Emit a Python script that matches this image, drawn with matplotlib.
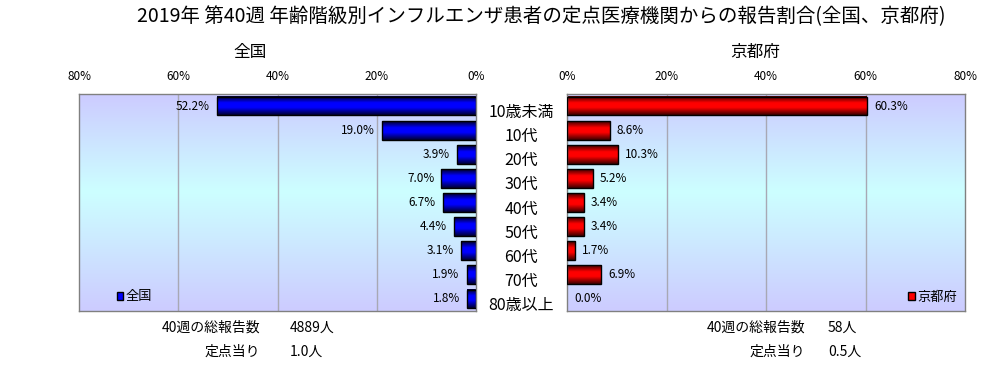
import numpy as np
import matplotlib
matplotlib.use("Agg")
import matplotlib.pyplot as plt
from matplotlib.colors import LinearSegmentedColormap
from matplotlib.patches import Patch
import matplotlib.transforms as mtransforms

plt.rcParams['font.family'] = ['Noto Sans CJK JP', 'DejaVu Sans']

title = "2019年 第40週 年齢階級別インフルエンザ患者の定点医療機関からの報告割合(全国、京都府)"
categories = ["10歳未満", "10代", "20代", "30代", "40代", "50代", "60代", "70代", "80歳以上"]
national = [52.2, 19.0, 3.9, 7.0, 6.7, 4.4, 3.1, 1.9, 1.8]
kyoto = [60.3, 8.6, 10.3, 5.2, 3.4, 3.4, 1.7, 6.9, 0.0]
xticks = [0, 20, 40, 60, 80]
national_total = ("40週の総報告数", "4889人")
national_per = ("定点当り", "1.0人")
kyoto_total = ("40週の総報告数", "58人")
kyoto_per = ("定点当り", "0.5人")

W, H = 1006, 365
fig = plt.figure(figsize=(W / 100, H / 100), dpi=100)
fig.patch.set_facecolor("white")

# backgrounds and bar shading
bg_cmap = LinearSegmentedColormap.from_list(
    "bg", [(0.0, "#ccccff"), (0.45, "#ccffff"), (1.0, "#ccccff")])
blue_cmap = LinearSegmentedColormap.from_list(
    "bl", [(0.0, "#000028"), (0.35, "#0000ff"), (0.6, "#0000ff"), (1.0, "#000032")])
red_cmap = LinearSegmentedColormap.from_list(
    "rd", [(0.0, "#3c0000"), (0.35, "#ff0000"), (0.6, "#ff0000"), (1.0, "#3c0000")])
grad = np.linspace(0, 1, 64).reshape(-1, 1)


def px_axes(x0, y0, x1, y1):
    return fig.add_axes([x0 / W, 1 - y1 / H, (x1 - x0) / W, (y1 - y0) / H])


ax_l = px_axes(79, 94, 476, 311)
ax_r = px_axes(567, 94, 965, 311)

y = np.arange(len(categories))
bh = 0.78


def draw_panel(ax, vals, cmap, left):
    if left:
        ax.set_xlim(80, 0)
    else:
        ax.set_xlim(0, 80)
    ax.imshow(grad, cmap=bg_cmap, aspect="auto", extent=(0, 80, len(categories) - 0.5, -0.5),
              zorder=0, interpolation="bilinear")
    for g in [20, 40, 60]:
        ax.axvline(g, color="#a8a8b4", lw=1, zorder=1)
    for yi, v in zip(y, vals):
        if v > 0:
            ax.imshow(grad, cmap=cmap, aspect="auto", zorder=2, interpolation="bilinear",
                      extent=(0, v, yi + bh / 2, yi - bh / 2))
            ax.barh(yi, v, height=bh, facecolor="none", edgecolor="black", lw=1, zorder=3)
        ax.annotate(f"{v:.1f}%", (v, yi), xytext=(-5 if left else 5, 0),
                    textcoords="offset points", va="center",
                    ha="right" if left else "left", fontsize=8.5, zorder=4)
    ax.set_ylim(len(categories) - 0.5, -0.5)
    ax.set_yticks([])
    ax.set_xticks(xticks)
    ax.set_xticklabels([f"{t}%" for t in xticks], fontsize=8.5)
    ax.xaxis.tick_top()
    ax.tick_params(axis="x", length=0, pad=8)
    for s in ax.spines.values():
        s.set_color("#808080")
        s.set_linewidth(1)


draw_panel(ax_l, national, blue_cmap, True)
draw_panel(ax_r, kyoto, red_cmap, False)

# legends
ax_l.legend(handles=[Patch(facecolor="#0000ff", edgecolor="black", label="全国")],
            loc="lower left", bbox_to_anchor=(0.065, -0.02), frameon=False,
            handlelength=0.5, handleheight=0.5, handletextpad=0.2, fontsize=9.5)
ax_r.legend(handles=[Patch(facecolor="#ff0000", edgecolor="black", label="京都府")],
            loc="lower right", bbox_to_anchor=(1.01, -0.02), frameon=False,
            handlelength=0.5, handleheight=0.5, handletextpad=0.2, fontsize=9.5)

# category labels between panels
trans = mtransforms.blended_transform_factory(fig.transFigure, ax_l.transData)
for yi, c in zip(y, categories):
    fig.text(521 / W, yi + 0.27, c, transform=trans, ha="center", va="center", fontsize=11.5)

# titles
fig.text(541 / W, 1 - 17 / H, title, ha="center", va="center", fontsize=14)
fig.text(250 / W, 1 - 52 / H, "全国", ha="center", va="center", fontsize=12)
fig.text(755 / W, 1 - 52 / H, "京都府", ha="center", va="center", fontsize=12)

# summary text
for (lab, val), yy, xr, xv in [
    (national_total, 328, 260, 290), (national_per, 352, 260, 290),
    (kyoto_total, 328, 805, 828), (kyoto_per, 352, 805, 828),
]:
    fig.text(xr / W, 1 - yy / H, lab, ha="right", va="center", fontsize=10)
    fig.text(xv / W, 1 - yy / H, val, ha="left", va="center", fontsize=10)

fig.savefig("out.png", dpi=100, facecolor="white")
